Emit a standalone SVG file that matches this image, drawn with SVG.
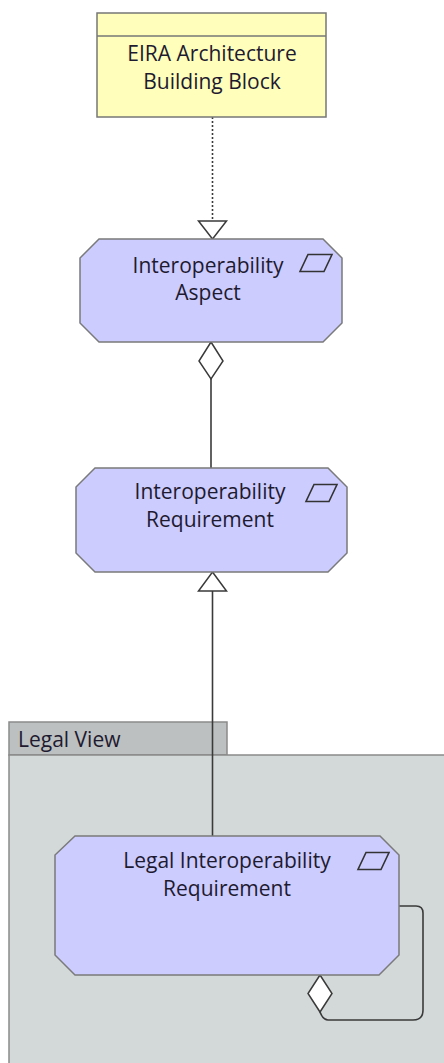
<svg xmlns="http://www.w3.org/2000/svg" width="444" height="1063" viewBox="0 0 444 1063">
  <style>
    .lbl { font-family: "Open Sans", "Noto Sans", "DejaVu Sans", sans-serif; font-size: 21px; fill: #1e1a30; text-anchor: middle; }
    .grp-lbl { font-family: "Open Sans", "Noto Sans", "DejaVu Sans", sans-serif; font-size: 21px; fill: #1e1a30; }
    .req { fill: #ccccff; stroke: #7a7a7a; stroke-width: 1.5; }
    .abb { fill: #ffffbb; stroke: #777; stroke-width: 1.5; }
    .icon { fill: none; stroke: #333; stroke-width: 1.6; stroke-linejoin: miter; }
    .edge { fill: none; stroke: #3a3a3a; stroke-width: 1.6; }
    .head { fill: #fff; stroke: #3a3a3a; stroke-width: 1.5; }
  </style>

  <!-- grouping: Legal View -->
  <g id="legal-view">
    <rect x="9" y="722" width="218" height="33" fill="#bcc0c0" stroke="#8a8a8a" stroke-width="1.5"/>
    <rect x="9" y="755" width="440" height="312" fill="#d3d9d9" stroke="#8a8a8a" stroke-width="1.5"/>
    <text class="grp-lbl" x="18" y="747">Legal View</text>
  </g>

  <!-- connectors -->
  <g id="connectors">
    <!-- realization: building block -> aspect -->
    <line class="edge" x1="212.5" y1="117" x2="212.5" y2="221" stroke-dasharray="2,2"/>
    <polygon class="head" points="198.5,221 226.5,221 212.5,239"/>
    <!-- aggregation: aspect <> requirement -->
    <line class="edge" x1="211" y1="379" x2="211" y2="468"/>
    <polygon class="head" points="211,342 223,361 211,379 199,361"/>
    <!-- specialization: legal requirement -> requirement -->
    <line class="edge" x1="212.5" y1="591" x2="212.5" y2="837"/>
    <polygon class="head" points="212.5,572 226.5,591 198.5,591"/>
    <!-- self aggregation on legal requirement -->
    <path class="edge" d="M399,906 H416 Q423,906 423,913 V1010 Q423,1020 413,1020 H328 Q323,1020 320,1012"/>
    <polygon class="head" points="320,975 332,993.5 320,1012 308,993.5"/>
  </g>

  <!-- EIRA Architecture Building Block -->
  <g id="eira-abb">
    <rect class="abb" x="97" y="13" width="229" height="104"/>
    <line x1="97" y1="36" x2="326" y2="36" stroke="#777" stroke-width="1.5"/>
    <text class="lbl" x="212" y="61">EIRA Architecture</text>
    <text class="lbl" x="212" y="89">Building Block</text>
  </g>

  <!-- Interoperability Aspect -->
  <g id="interop-aspect">
    <polygon class="req" points="99,239 323,239 342,258 342,323 323,342 99,342 80,323 80,258"/>
    <text class="lbl" x="208" y="273">Interoperability</text>
    <text class="lbl" x="208" y="300">Aspect</text>
    <polygon class="icon" points="308,254.5 332,254.5 324,271.5 300,271.5"/>
  </g>

  <!-- Interoperability Requirement -->
  <g id="interop-requirement">
    <polygon class="req" points="95,468 328,468 347,487 347,553 328,572 95,572 76,553 76,487"/>
    <text class="lbl" x="210" y="499">Interoperability</text>
    <text class="lbl" x="210" y="527">Requirement</text>
    <polygon class="icon" points="314,484.5 337,484.5 329,501.5 306,501.5"/>
  </g>

  <!-- Legal Interoperability Requirement -->
  <g id="legal-interop-requirement">
    <polygon class="req" points="75,836 380,836 399,855 399,955 379,975 75,975 55,955 55,855"/>
    <text class="lbl" x="227" y="868">Legal Interoperability</text>
    <text class="lbl" x="227" y="896">Requirement</text>
    <polygon class="icon" points="366,852.5 389,852.5 381,869.5 358,869.5"/>
  </g>
</svg>
